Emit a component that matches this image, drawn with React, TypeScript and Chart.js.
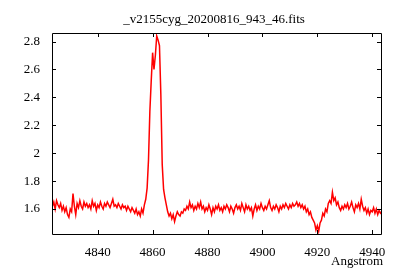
import React, { useEffect, useRef } from "react";
import { Chart, registerables } from "chart.js";

Chart.register(...registerables);

const TITLE = "_v2155cyg_20200816_943_46.fits";
const X_LABEL = "Angstrom";
const STEP = 0.5;

const xTicks = [4840, 4860, 4880, 4900, 4920, 4940];
const yTicks = [1.6, 1.8, 2, 2.2, 2.4, 2.6, 2.8];

// Blue continuum, 4823.5 – 4854.5 Å
const blueStart = 4823.5;
const fluxBlue = [
  1.62, 1.65, 1.6, 1.66, 1.63, 1.61, 1.64, 1.59, 1.62, 1.58, 1.61, 1.56, 1.54, 1.6, 1.58, 1.71,
  1.62, 1.56, 1.64, 1.61, 1.66, 1.62, 1.6, 1.65, 1.62, 1.64, 1.61, 1.63, 1.6, 1.66, 1.62, 1.64,
  1.59, 1.63, 1.61, 1.65, 1.62, 1.6, 1.64, 1.62, 1.65, 1.63, 1.61, 1.64, 1.67, 1.62, 1.63, 1.61,
  1.64, 1.62, 1.6, 1.63, 1.61, 1.62, 1.59, 1.62, 1.6, 1.58, 1.61, 1.59, 1.57, 1.6, 1.56,
];

// H-beta emission, 4855.0 – 4869.5 Å
const hbetaStart = 4855.0;
const fluxHbeta = [
  1.58, 1.55, 1.6, 1.57, 1.63, 1.67, 1.75, 1.95, 2.3, 2.52, 2.72, 2.6, 2.7, 2.84, 2.81, 2.77,
  2.42, 1.92, 1.74, 1.68, 1.63, 1.58, 1.55, 1.57, 1.53, 1.56, 1.51, 1.55, 1.58, 1.56,
];

// Middle continuum, 4870.0 – 4911.5 Å
const midStart = 4870.0;
const fluxMid = [
  1.55, 1.58, 1.57, 1.6, 1.59, 1.62, 1.6, 1.65, 1.61, 1.63, 1.59, 1.62, 1.6, 1.64, 1.61, 1.65,
  1.6, 1.62, 1.58, 1.61, 1.59, 1.63, 1.6, 1.56, 1.61, 1.58, 1.62, 1.6, 1.63, 1.59, 1.61, 1.58,
  1.62, 1.6, 1.63, 1.61, 1.58, 1.62, 1.6, 1.57, 1.61, 1.63, 1.6, 1.62, 1.59, 1.64, 1.61, 1.58,
  1.63, 1.6, 1.62, 1.59, 1.61, 1.55, 1.6, 1.63, 1.59, 1.62, 1.6, 1.64, 1.61, 1.59, 1.62, 1.6,
  1.63, 1.66, 1.61, 1.59, 1.62, 1.6, 1.63, 1.61, 1.58, 1.62, 1.6, 1.63, 1.61, 1.64, 1.62, 1.6,
  1.63, 1.61, 1.64, 1.62,
];

// Red part with absorption/emission, 4912.0 – 4943.5 Å
const redStart = 4912.0;
const fluxRed = [
  1.63, 1.65, 1.62, 1.64, 1.61, 1.63, 1.6, 1.62, 1.58, 1.6, 1.56, 1.58, 1.54, 1.52, 1.5, 1.45,
  1.48, 1.44, 1.5, 1.52, 1.57, 1.55, 1.6, 1.58, 1.64, 1.66, 1.64, 1.72, 1.66, 1.68, 1.63, 1.65,
  1.61, 1.59, 1.62, 1.6, 1.63, 1.61, 1.64, 1.6, 1.62, 1.65, 1.61, 1.58, 1.63, 1.61, 1.64, 1.6,
  1.67, 1.62, 1.59, 1.61, 1.57, 1.6, 1.56, 1.59, 1.58, 1.61, 1.57, 1.6, 1.56, 1.59, 1.57, 1.58,
];

const X_MIN = 4823.35;
const X_MAX = 4943.2;
const Y_MIN = 1.421;
const Y_MAX = 2.861;

const segments: [number, number[]][] = [
  [blueStart, fluxBlue],
  [hbetaStart, fluxHbeta],
  [midStart, fluxMid],
  [redStart, fluxRed],
];

const FONT = "'Liberation Serif', 'Times New Roman', serif";

export default function App() {
  const ref = useRef<HTMLCanvasElement | null>(null);

  useEffect(() => {
    document.body.style.margin = "0";
    const canvas = ref.current;
    if (!canvas) return;
    const points: { x: number; y: number }[] = [];
    segments.forEach(([start, vals]) => {
      vals.forEach((v, i) => points.push({ x: start + i * STEP, y: v }));
    });

    const framePlugin = {
      id: "frame",
      afterDraw(chart: any) {
        const ctx = chart.ctx;
        const { left, right, top, bottom } = chart.chartArea;
        ctx.save();
        ctx.strokeStyle = "#000";
        ctx.lineWidth = 1;
        ctx.beginPath();
        ctx.rect(left + 0.5, top + 0.5, right - left, bottom - top);
        ctx.stroke();
        const xs = chart.scales.x;
        const ys = chart.scales.y;
        const tl = 4;
        ctx.beginPath();
        xs.ticks.forEach((t: any) => {
          const px = Math.round(xs.getPixelForValue(t.value)) + 0.5;
          ctx.moveTo(px, bottom);
          ctx.lineTo(px, bottom - tl);
          ctx.moveTo(px, top);
          ctx.lineTo(px, top + tl);
        });
        ys.ticks.forEach((t: any) => {
          const py = Math.round(ys.getPixelForValue(t.value)) + 0.5;
          ctx.moveTo(left, py);
          ctx.lineTo(left + tl, py);
          ctx.moveTo(right, py);
          ctx.lineTo(right - tl, py);
        });
        ctx.stroke();
        ctx.fillStyle = "#000";
        ctx.font = "13px " + FONT;
        ctx.textBaseline = "alphabetic";
        ctx.textAlign = "center";
        ctx.fillText(TITLE, 214, 23);
        ctx.textAlign = "right";
        ctx.fillText(X_LABEL, 383, 265);
        ctx.restore();
      },
    };

    const chart = new Chart(canvas, {
      type: "line",
      data: {
        datasets: [
          {
            data: points,
            borderColor: "#ff0000",
            borderWidth: 1.5,
            pointRadius: 0,
            tension: 0,
            fill: false,
          },
        ],
      },
      options: {
        animation: false,
        responsive: false,
        devicePixelRatio: 1,
        layout: { padding: { top: 33, right: 19, left: 0, bottom: 0 } },
        plugins: { legend: { display: false }, tooltip: { enabled: false }, title: { display: false } },
        scales: {
          x: {
            type: "linear",
            min: X_MIN,
            max: X_MAX,
            grid: { display: false, drawTicks: false },
            border: { display: false },
            afterBuildTicks: (s: any) => {
              s.ticks = xTicks.map((v) => ({ value: v }));
            },
            ticks: {
              autoSkip: false,
              maxRotation: 0,
              padding: 11,
              color: "#000",
              font: { family: FONT, size: 13 },
              callback: (v: any) => String(Math.round(Number(v))),
            },
            afterFit: (s: any) => {
              s.height = 46;
            },
          },
          y: {
            type: "linear",
            min: Y_MIN,
            max: Y_MAX,
            grid: { display: false, drawTicks: false },
            border: { display: false },
            afterBuildTicks: (s: any) => {
              s.ticks = yTicks.map((v) => ({ value: v }));
            },
            ticks: {
              autoSkip: false,
              padding: 12,
              color: "#000",
              font: { family: FONT, size: 13 },
              callback: (v: any) => String(Math.round(Number(v) * 10) / 10),
            },
            afterFit: (s: any) => {
              s.width = 52;
            },
          },
        },
      },
      plugins: [framePlugin],
    });
    return () => chart.destroy();
  }, []);

  return (
    <div style={{ width: 400, height: 280, background: "#fff" }}>
      <canvas ref={ref} width={400} height={280} style={{ display: "block" }} />
    </div>
  );
}
